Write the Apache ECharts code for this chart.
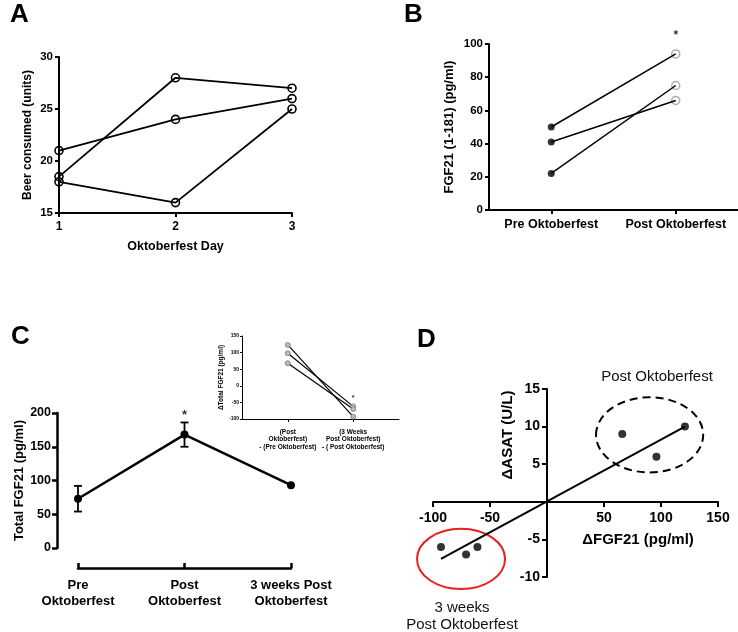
<!DOCTYPE html>
<html>
<head>
<meta charset="utf-8">
<script src="https://cdn.jsdelivr.net/npm/echarts@6/dist/echarts.min.js"></script>
<style>
  html, body { margin: 0; padding: 0; background: #fff; }
  #chart { width: 738px; height: 632px; }
</style>
</head>
<body>
<div id="chart"></div>
<script>
// A: beer consumed on each day, one line per subject
var aDays = [1, 2, 3];
var aSubject1 = [18.5, 28, 27];
var aSubject2 = [21, 24, 26];
var aSubject3 = [18, 16, 25];

// B: FGF21 (1-181) before and after, paired
var bCats = ['Pre Oktoberfest', 'Post Oktoberfest'];
var bPre = [50, 41, 22];
var bPost = [94, 66, 75];
var bStar = [1, 105];

// C: total FGF21 mean with error bars
var cCats = ['Pre\nOktoberfest', 'Post\nOktoberfest', '3 weeks Post\nOktoberfest'];
var cMean = [73, 168, 93];
var cLow = [54, 150, 93];
var cHigh = [92, 186, 93];
var cStar = [1, 197];

// C inset: deltas
var insetCats = ['(Post\nOktoberfest)\n- (Pre Oktoberfest)', '(3 Weeks\nPost Oktoberfest)\n- ( Post Oktoberfest)'];
var insetFirst = [123, 98, 68];
var insetSecond = [-93, -62, -70];
var insetStar = [1, -38];

// D: delta ASAT vs delta FGF21
var dPostX = [66, 96, 121];
var dPostY = [9, 6, 10];
var d3wX = [-93, -71, -61];
var d3wY = [-6, -7, -6];
var dFitX = [-93, 121];
var dFitY = [-7.6, 10];
// rings around the groups: centre x, centre y, radius x, radius y (data units)
var dPostRing = [90, 8.9, 47, 5.0];
var d3wRing = [-75.4, -7.6, 38.6, 4.0];

var FONT = '"Liberation Sans", Arial, sans-serif';

function pairs(xs, ys) {
  return xs.map(function (x, i) { return [x, ys[i]]; });
}

function axisBase(w) {
  return {
    axisLine: { show: true, onZero: false, lineStyle: { color: '#000', width: w } },
    axisTick: { show: true, length: 4, lineStyle: { color: '#000', width: w } },
    splitLine: { show: false },
    axisLabel: { color: '#000', fontWeight: 'bold', fontFamily: FONT }
  };
}

function mergeAxis(base, extra) {
  var out = JSON.parse(JSON.stringify(base));
  Object.keys(extra).forEach(function (k) {
    if (typeof extra[k] === 'object' && !Array.isArray(extra[k]) && out[k]) {
      Object.keys(extra[k]).forEach(function (k2) { out[k][k2] = extra[k][k2]; });
    } else {
      out[k] = extra[k];
    }
  });
  return out;
}

function nameStyle(size) {
  return { color: '#000', fontWeight: 'bold', fontSize: size, fontFamily: FONT };
}

function ringItem(dashed, color) {
  return function (params, api) {
    var c = api.coord([api.value(0), api.value(1)]);
    var s = api.size([api.value(2), api.value(3)]);
    return {
      type: 'ellipse',
      shape: { cx: c[0], cy: c[1], rx: s[0], ry: s[1] },
      style: { fill: 'none', stroke: color, lineWidth: 2, lineDash: dashed ? [8, 5] : null }
    };
  };
}

function starSeries(xi, yi, pos, size) {
  return {
    type: 'scatter', xAxisIndex: xi, yAxisIndex: yi, clip: false,
    symbolSize: 0, silent: true,
    data: [pos],
    label: { show: true, position: 'inside', formatter: '*', color: '#000',
      fontWeight: 'bold', fontSize: size, fontFamily: FONT }
  };
}

var chart = echarts.init(document.getElementById('chart'));

var series = [];
[aSubject1, aSubject2, aSubject3].forEach(function (s) {
  series.push({
    type: 'line', xAxisIndex: 0, yAxisIndex: 0,
    data: pairs(aDays, s),
    symbol: 'circle', symbolSize: 8,
    itemStyle: { color: 'rgba(0,0,0,0)', borderColor: '#000', borderWidth: 1.6 },
    lineStyle: { color: '#000', width: 1.8 }
  });
});

bPre.forEach(function (v, i) {
  series.push({
    type: 'line', xAxisIndex: 1, yAxisIndex: 1,
    data: [bPre[i], bPost[i]], showSymbol: false,
    lineStyle: { color: '#000', width: 1.5 }
  });
});
series.push({
  type: 'scatter', xAxisIndex: 1, yAxisIndex: 1, symbolSize: 7,
  data: bPre.map(function (v) { return [0, v]; }),
  itemStyle: { color: '#000' }
});
series.push({
  type: 'scatter', xAxisIndex: 1, yAxisIndex: 1, symbolSize: 8,
  data: bPost.map(function (v) { return [1, v]; }),
  itemStyle: { color: '#fff', borderColor: '#999', borderWidth: 1.5 }
});
series.push(starSeries(1, 1, bStar, 12));

series.push({
  type: 'custom', xAxisIndex: 2, yAxisIndex: 2,
  data: cMean.map(function (m, i) { return [i, cLow[i], cHigh[i]]; }),
  encode: { x: 0, y: [1, 2] },
  renderItem: function (params, api) {
    var lo = api.coord([api.value(0), api.value(1)]);
    var hi = api.coord([api.value(0), api.value(2)]);
    var w = 4;
    var st = { stroke: '#000', lineWidth: 1.8 };
    if (api.value(1) === api.value(2)) return null;
    return {
      type: 'group', children: [
        { type: 'line', shape: { x1: lo[0], y1: lo[1], x2: hi[0], y2: hi[1] }, style: st },
        { type: 'line', shape: { x1: lo[0] - w, y1: lo[1], x2: lo[0] + w, y2: lo[1] }, style: st },
        { type: 'line', shape: { x1: hi[0] - w, y1: hi[1], x2: hi[0] + w, y2: hi[1] }, style: st }
      ]
    };
  }
});
series.push({
  type: 'line', xAxisIndex: 2, yAxisIndex: 2,
  data: cMean, symbol: 'circle', symbolSize: 8,
  itemStyle: { color: '#000' },
  lineStyle: { color: '#000', width: 2.5 }
});
series.push(starSeries(2, 2, cStar, 13));

insetFirst.forEach(function (v, i) {
  series.push({
    type: 'line', xAxisIndex: 3, yAxisIndex: 3,
    data: [[0, insetFirst[i]], [1, insetSecond[i]]],
    symbol: 'circle', symbolSize: 5,
    itemStyle: { color: '#bbb', borderColor: '#777', borderWidth: 0.8 },
    lineStyle: { color: '#000', width: 1.2 }
  });
});
series.push(starSeries(3, 3, insetStar, 7));

series.push({
  type: 'custom', xAxisIndex: 4, yAxisIndex: 4,
  data: [dPostRing], encode: { x: 0, y: 1 },
  renderItem: ringItem(true, '#000')
});
series.push({
  type: 'custom', xAxisIndex: 4, yAxisIndex: 4,
  data: [d3wRing], encode: { x: 0, y: 1 },
  renderItem: ringItem(false, '#e8201e')
});
series.push({
  type: 'line', xAxisIndex: 4, yAxisIndex: 4,
  data: pairs(dFitX, dFitY), showSymbol: false,
  lineStyle: { color: '#000', width: 2 }
});
series.push({
  type: 'scatter', xAxisIndex: 4, yAxisIndex: 4, symbolSize: 8,
  data: pairs(dPostX, dPostY).concat(pairs(d3wX, d3wY)),
  itemStyle: { color: '#000' }
});

var base2 = axisBase(2);

chart.setOption({
  animation: false,
  backgroundColor: '#fff',
  textStyle: { fontFamily: FONT },
  grid: [
    { left: 59, top: 57, width: 233, height: 156, outerBoundsMode: 'none' },
    { left: 489, top: 44, width: 249, height: 166, outerBoundsMode: 'none' },
    { left: 78, top: 413, width: 213, height: 135, outerBoundsMode: 'none' },
    { left: 242, top: 336, width: 157, height: 83, outerBoundsMode: 'none' },
    { left: 433, top: 389, width: 285, height: 188, outerBoundsMode: 'none' }
  ],
  xAxis: [
    mergeAxis(base2, {
      gridIndex: 0, type: 'value', min: 1, max: 3, interval: 1,
      axisLabel: { fontSize: 12, margin: 8 },
      name: 'Oktoberfest Day', nameLocation: 'middle', nameGap: 27, nameTextStyle: nameStyle(12.5)
    }),
    mergeAxis(base2, {
      gridIndex: 1, type: 'category', data: bCats, boundaryGap: true,
      axisTick: { alignWithLabel: true },
      axisLabel: { fontSize: 12.5, margin: 8, interval: 0, hideOverlap: false }
    }),
    mergeAxis(axisBase(2.5), {
      gridIndex: 2, type: 'category', data: cCats, boundaryGap: false, offset: 20,
      axisTick: { inside: true, length: 5 },
      axisLabel: { fontSize: 13, margin: 9, lineHeight: 16, interval: 0 }
    }),
    mergeAxis(axisBase(1), {
      gridIndex: 3, type: 'value', min: -0.7, max: 1.7,
      axisTick: { length: 3, customValues: [0, 1] },
      axisLabel: { fontSize: 6.5, margin: 9, lineHeight: 7.5, customValues: [0, 1],
        formatter: function (v) { return insetCats[Math.round(v)]; } }
    }),
    mergeAxis(base2, {
      gridIndex: 4, type: 'value', min: -100, max: 150, interval: 50,
      position: 'bottom', offset: -75,
      axisTick: { length: 5 },
      axisLabel: { fontSize: 14, margin: 9, formatter: function (v) { return v === 0 ? '' : v; } }
    })
  ],
  yAxis: [
    mergeAxis(base2, {
      gridIndex: 0, type: 'value', min: 15, max: 30, interval: 5,
      axisLabel: { fontSize: 11.5, margin: 6 },
      name: 'Beer consumed (units)', nameLocation: 'middle', nameGap: 25, nameTextStyle: nameStyle(12)
    }),
    mergeAxis(base2, {
      gridIndex: 1, type: 'value', min: 0, max: 100, interval: 20,
      axisLabel: { fontSize: 11.5, margin: 6 },
      name: 'FGF21 (1-181) (pg/ml)', nameLocation: 'middle', nameGap: 33, nameTextStyle: nameStyle(13)
    }),
    mergeAxis(axisBase(2.5), {
      gridIndex: 2, type: 'value', min: 0, max: 200, interval: 50, offset: 21,
      axisTick: { length: 5 },
      axisLabel: { fontSize: 12.5, margin: 6 },
      name: 'Total FGF21 (pg/ml)', nameLocation: 'middle', nameGap: 30, nameTextStyle: nameStyle(13)
    }),
    mergeAxis(axisBase(1), {
      gridIndex: 3, type: 'value', min: -100, max: 150, interval: 50,
      axisTick: { length: 2 },
      axisLabel: { fontSize: 5, margin: 3 },
      name: '\u0394Total FGF21 (pg/ml)', nameLocation: 'middle', nameGap: 14, nameTextStyle: nameStyle(6.5)
    }),
    mergeAxis(base2, {
      gridIndex: 4, type: 'value', min: -10, max: 15, interval: 5,
      position: 'left', offset: -114,
      axisTick: { length: 5 },
      axisLabel: { fontSize: 14, margin: 7, formatter: function (v) { return v === 0 ? '' : v; } }
    })
  ],
  graphic: [
    { type: 'text', left: 10, top: 2, style: { text: 'A', fontSize: 26, fontWeight: 'bold', fontFamily: FONT, fill: '#000' } },
    { type: 'text', left: 404, top: 2, style: { text: 'B', fontSize: 26, fontWeight: 'bold', fontFamily: FONT, fill: '#000' } },
    { type: 'text', left: 11, top: 324, style: { text: 'C', fontSize: 26, fontWeight: 'bold', fontFamily: FONT, fill: '#000' } },
    { type: 'text', left: 417, top: 327, style: { text: 'D', fontSize: 26, fontWeight: 'bold', fontFamily: FONT, fill: '#000' } },
    { type: 'text', x: 657, y: 377, style: { text: 'Post Oktoberfest', fontSize: 15, fontFamily: FONT, fill: '#111', align: 'center', verticalAlign: 'middle' } },
    { type: 'text', x: 462, y: 616, style: { text: '3 weeks\nPost Oktoberfest', fontSize: 15, lineHeight: 17, fontFamily: FONT, fill: '#111', align: 'center', verticalAlign: 'middle' } },
    { type: 'text', x: 638, y: 540, style: { text: '\u0394FGF21 (pg/ml)', fontSize: 15, fontWeight: 'bold', fontFamily: FONT, fill: '#000', align: 'center', verticalAlign: 'middle' } },
    { type: 'text', x: 508, y: 435, rotation: Math.PI / 2, style: { text: '\u0394ASAT (U/L)', fontSize: 15, fontWeight: 'bold', fontFamily: FONT, fill: '#000', align: 'center', verticalAlign: 'middle' } }
  ],
  series: series
});
</script>
</body>
</html>
